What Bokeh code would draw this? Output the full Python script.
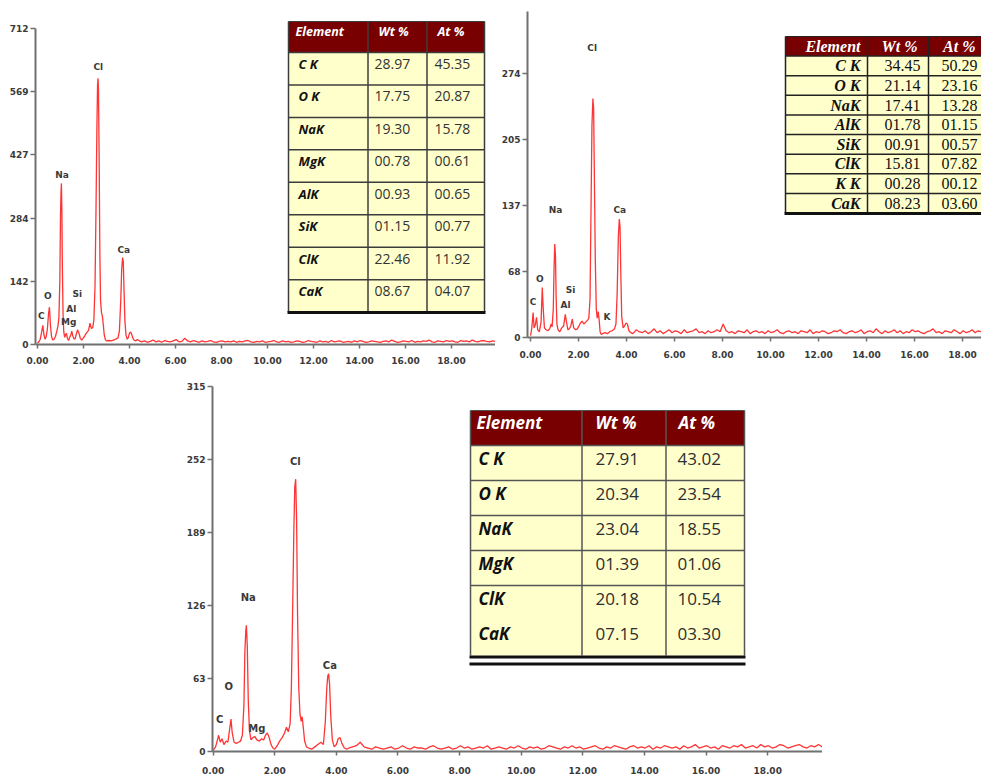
import numpy as np
from bokeh.plotting import figure
from bokeh.models import Range1d, FixedTicker, PrintfTickFormatter, Spacer
from bokeh.layouts import row, column
from bokeh.core.properties import value
from bokeh.embed import file_html
from bokeh.resources import INLINE

# ---------------------------------------------------------------- data
x_ticks = [0, 2, 4, 6, 8, 10, 12, 14, 16, 18]

# spectrum 1 (top left)
s1_energy = [0.00, 0.06, 0.12, 0.18, 0.23, 0.28, 0.33, 0.38, 0.43, 0.48,
             0.52, 0.56, 0.61, 0.66, 0.72, 0.78, 0.84, 0.89, 0.93, 0.97,
             1.00, 1.02, 1.04, 1.06, 1.08, 1.11, 1.14, 1.18, 1.22, 1.26,
             1.30, 1.35, 1.40, 1.45, 1.49, 1.53, 1.58, 1.63, 1.68, 1.74,
             1.80, 1.86, 1.92, 1.98, 2.04, 2.10, 2.16, 2.22, 2.28, 2.34,
             2.40, 2.45, 2.50, 2.54, 2.58, 2.61, 2.63, 2.65, 2.68, 2.71,
             2.74, 2.78, 2.82, 2.86, 2.90, 2.95, 3.00, 3.10, 3.20, 3.30,
             3.40, 3.50, 3.56, 3.62, 3.66, 3.70, 3.73, 3.76, 3.80, 3.85,
             3.90, 3.95, 4.00, 4.05, 4.10, 4.15, 4.20, 4.27, 4.34]
s1_counts = [3, 6, 12, 28, 43, 22, 12, 18, 35, 70,
             84, 45, 18, 10, 12, 18, 30, 42, 60, 140,
             290, 340, 363, 300, 180, 70, 30, 16, 22, 25,
             14, 9, 16, 22, 30, 20, 13, 12, 22, 33,
             26, 14, 10, 14, 18, 24, 28, 32, 48, 36,
             38, 55, 130, 290, 480, 585, 600, 575, 420, 210,
             100, 72, 64, 45, 22, 11, 8, 9, 8, 10,
             12, 15, 30, 100, 170, 196, 186, 125, 52, 20,
             12, 16, 26, 28, 22, 14, 10, 8, 11]
s1_tail = [9, 6, 8, 5, 7, 10, 6, 8, 5, 9, 7, 6, 8, 11, 6, 7, 14, 8, 6, 9,
           7, 5, 8, 6, 7, 9, 6, 5, 7, 8, 6, 7, 6, 8, 5, 7, 6, 8, 9, 6,
           5, 7, 6, 8, 5, 6, 7, 9, 6, 5, 8, 6, 7, 5, 6, 8, 7, 5, 6, 9,
           7, 6, 5, 8, 6, 7, 5, 9, 6, 7, 8, 5, 6, 7, 5, 8, 6, 9, 7, 5,
           6, 8, 7, 6, 5, 7, 8, 6, 10, 7, 5, 6, 8, 7, 6, 9, 5, 7, 6, 8,
           7, 10, 6, 5, 8, 7, 6, 9, 7, 8, 6, 5, 9, 7, 8, 6, 10, 7, 6, 8,
           9, 7, 6, 8, 7]
s1_yticks = [0, 142.4, 284.8, 427.2, 569.6, 712]
s1_ylabels = ["0", "142", "284", "427", "569", "712"]
s1_peaks = ["C", "O", "Na", "Mg", "Al", "Si", "Cl", "Ca"]
s1_peak_x = [0.16, 0.45, 1.07, 1.36, 1.47, 1.73, 2.64, 3.75]
s1_peak_y = [65, 109, 383, 50, 80, 113, 625, 213]

# spectrum 2 (top right)
s2_energy = [0.00, 0.05, 0.11, 0.15, 0.20, 0.25, 0.30, 0.37, 0.44, 0.49,
             0.53, 0.58, 0.65, 0.72, 0.80, 0.86, 0.90, 0.95, 0.98, 1.01,
             1.04, 1.07, 1.10, 1.15, 1.22, 1.30, 1.38, 1.45, 1.50, 1.56,
             1.62, 1.68, 1.74, 1.80, 1.88, 1.95, 2.02, 2.08, 2.15, 2.22,
             2.30, 2.38, 2.43, 2.48, 2.52, 2.56, 2.60, 2.63, 2.66, 2.70,
             2.74, 2.78, 2.82, 2.86, 2.90, 2.95, 3.00, 3.10, 3.20, 3.30,
             3.40, 3.50, 3.56, 3.61, 3.66, 3.70, 3.73, 3.76, 3.80, 3.86,
             3.92, 3.98, 4.04, 4.10, 4.18, 4.26, 4.34]
s2_counts = [2, 9, 26, 10, 13, 21, 8, 6, 16, 52,
             30, 10, 8, 7, 9, 14, 11, 30, 70, 97,
             85, 40, 14, 8, 6, 10, 12, 24, 16, 8,
             9, 12, 19, 10, 8, 9, 12, 15, 17, 14,
             16, 18, 20, 40, 130, 220, 248, 238, 170, 80,
             30, 20, 27, 18, 6, 3, 4, 5, 4, 6,
             7, 9, 14, 45, 105, 123, 115, 70, 22, 10,
             12, 15, 14, 7, 5, 4, 6]
s2_tail = [8, 6, 5, 7, 4, 6, 9, 5, 7, 4, 6, 8, 5, 7, 6, 4, 8, 5, 6, 7,
           9, 5, 6, 4, 7, 5, 6, 8, 6, 14, 7, 5, 6, 4, 7, 6, 5, 8, 4, 6,
           7, 5, 6, 4, 7, 5, 6, 8, 5, 4, 6, 7, 5, 6, 4, 7, 6, 5, 8, 4,
           6, 5, 7, 6, 4, 5, 7, 6, 8, 5, 4, 6, 7, 5, 6, 8, 4, 6, 7, 5,
           9, 6, 4, 7, 5, 6, 8, 5, 7, 4, 6, 5, 8, 6, 7, 5, 4, 6, 7, 9,
           5, 6, 4, 7, 6, 5, 8, 6, 4, 7, 5, 6, 8, 5, 7, 6, 4, 6, 8, 5,
           7, 6, 5, 7, 6]
s2_yticks = [0, 68.5, 137, 205.5, 274]
s2_ylabels = ["0", "68", "137", "205", "274"]
s2_peaks = ["C", "O", "Na", "Al", "Si", "Cl", "K", "Ca"]
s2_peak_x = [0.11, 0.39, 1.04, 1.46, 1.67, 2.57, 3.19, 3.72]
s2_peak_y = [37, 61, 132, 34, 49, 301, 21, 132]

# spectrum 3 (bottom)
s3_energy = [0.00, 0.08, 0.14, 0.18, 0.23, 0.29, 0.35, 0.42, 0.48, 0.54,
             0.58, 0.62, 0.68, 0.75, 0.82, 0.89, 0.95, 1.00, 1.03, 1.06,
             1.08, 1.11, 1.14, 1.18, 1.23, 1.29, 1.35, 1.42, 1.50, 1.57,
             1.64, 1.70, 1.76, 1.82, 1.88, 1.94, 2.00, 2.08, 2.16, 2.24,
             2.32, 2.38, 2.44, 2.50, 2.54, 2.58, 2.62, 2.65, 2.68, 2.71,
             2.74, 2.78, 2.82, 2.86, 2.89, 2.93, 2.97, 3.03, 3.10, 3.20,
             3.30, 3.40, 3.50, 3.58, 3.64, 3.69, 3.72, 3.75, 3.78, 3.82,
             3.87, 3.93, 4.00, 4.06, 4.12, 4.18, 4.26, 4.34]
s3_counts = [1, 4, 10, 14, 8, 11, 6, 9, 8, 20,
             28, 16, 8, 7, 8, 9, 14, 40, 85, 104,
             109, 90, 45, 18, 10, 12, 13, 10, 9, 11,
             10, 14, 16, 12, 6, 3, 2, 5, 9, 12,
             16, 21, 17, 24, 55, 120, 190, 228, 235, 200,
             120, 55, 32, 26, 30, 20, 9, 4, 3, 2,
             4, 6, 8, 6, 25, 55, 65, 67, 58, 30,
             10, 4, 6, 11, 12, 7, 3, 2]
s3_tail = [3, 4, 5, 8, 4, 3, 2, 4, 3, 2, 3, 4, 2, 3, 5, 3, 2, 4, 3, 3,
           2, 4, 5, 3, 2, 3, 4, 2, 3, 5, 3, 4, 2, 3, 4, 3, 5, 2, 3, 4,
           3, 2, 4, 3, 5, 3, 2, 4, 3, 4, 2, 3, 5, 4, 3, 2, 4, 3, 5, 3,
           4, 2, 3, 4, 5, 3, 2, 4, 3, 5, 4, 3, 2, 4, 5, 3, 4, 3, 5, 2,
           4, 3, 5, 4, 3, 4, 2, 5, 3, 4, 6, 3, 4, 5, 3, 4, 2, 5, 4, 3,
           5, 4, 6, 3, 4, 5, 3, 6, 4, 5, 3, 4, 6, 5, 3, 4, 5, 6, 4, 3,
           5, 4, 6, 4, 5]
s3_yticks = [0, 63, 126, 189, 252, 315]
s3_ylabels = ["0", "63", "126", "189", "252", "315"]
s3_peaks = ["C", "O", "Na", "Mg", "Cl", "Ca"]
s3_peak_x = [0.21, 0.51, 1.14, 1.42, 2.67, 3.79]
s3_peak_y = [28, 56, 133, 20, 250, 74]

# tables
table_header = ["Element", "Wt %", "At %"]
t1_elements = ["C K", "O K", "NaK", "MgK", "AlK", "SiK", "ClK", "CaK"]
t1_wt = [28.97, 17.75, 19.30, 0.78, 0.93, 1.15, 22.46, 8.67]
t1_at = [45.35, 20.87, 15.78, 0.61, 0.65, 0.77, 11.92, 4.07]
t2_elements = ["C K", "O K", "NaK", "AlK", "SiK", "ClK", "K K", "CaK"]
t2_wt = [34.45, 21.14, 17.41, 1.78, 0.91, 15.81, 0.28, 8.23]
t2_at = [50.29, 23.16, 13.28, 1.15, 0.57, 7.82, 0.12, 3.60]
t3_elements = ["C K", "O K", "NaK", "MgK", "ClK", "CaK"]
t3_wt = [27.91, 20.34, 23.04, 1.39, 20.18, 7.15]
t3_at = [43.02, 23.54, 18.55, 1.06, 10.54, 3.30]

TAIL_START, TAIL_STEP = 4.4, 0.125  # channel grid of the flat part

# ---------------------------------------------------------------- style
RED = "#ff3434"
AXC = "#707070"
LBL = "#3a3a3a"
MAROON = "#780000"
CREAM = "#ffffcc"


def spectrum(energy, counts, tail):
    e = list(energy) + [round(TAIL_START + TAIL_STEP * i, 3) for i in range(len(tail))]
    c = list(counts) + list(tail)
    return e, c


def make_panel(w, h, ml, mr, mt, mb, xr, yr, frame):
    p = figure(width=w, height=h, x_range=Range1d(*xr), y_range=Range1d(*yr),
               output_backend="svg", toolbar_location=None, title=None,
               min_border_left=ml, min_border_right=mr,
               min_border_top=mt, min_border_bottom=mb)
    L, R, T, B = frame
    p.extra_x_ranges = {"tx": Range1d(L, R)}
    p.extra_y_ranges = {"ty": Range1d(B, T)}
    p.outline_line_color = None
    p.xgrid.visible = False
    p.ygrid.visible = False
    p.background_fill_color = "white"
    p.border_fill_color = "white"
    return p


def style_axes(p, yticks, ylabels, x_standoff, ybounds=None):
    xa, ya = p.xaxis[0], p.yaxis[0]
    xa.ticker = FixedTicker(ticks=x_ticks)
    xa.formatter = PrintfTickFormatter(format="%.2f")
    ya.ticker = FixedTicker(ticks=yticks)
    ya.major_label_overrides = {t: l for t, l in zip(yticks, ylabels)}
    if ybounds is not None:
        ya.bounds = ybounds
    for ax in (xa, ya):
        ax.axis_line_color = AXC
        ax.axis_line_width = 2
        ax.major_tick_line_color = AXC
        ax.major_tick_line_width = 1.5
        ax.major_tick_in = 0
        ax.minor_tick_line_color = None
        ax.major_label_text_font = "DejaVu Sans"
        ax.major_label_text_font_style = "bold"
        ax.major_label_text_font_size = "9px"
        ax.major_label_text_color = LBL
    ya.major_tick_out = 5
    ya.major_label_standoff = 2
    xa.major_tick_out = 4
    xa.major_label_standoff = x_standoff


def draw_spectrum(p, e, c, names, px, py, size="9px"):
    p.line(e, c, line_color=RED, line_width=1.3)
    p.text(x=px, y=py, text=names, text_font=value("DejaVu Sans"),
           text_font_style="bold", text_font_size=size, text_color=LBL,
           text_align="center", text_baseline="middle")


def draw_table(p, cfg, headers, elements, wt, at):
    kw = dict(x_range_name="tx", y_range_name="ty")
    L, R, T = cfg["left"], cfg["right"], cfg["top"]
    HB, RH = cfg["head_bottom"], cfg["row_h"]
    n = len(elements)
    B = HB + RH * n
    p.quad(left=[L], right=[R], top=[T], bottom=[HB], fill_color=MAROON,
           line_color=None, **kw)
    p.quad(left=[L], right=[R], top=[HB], bottom=[B], fill_color=CREAM,
           line_color=None, **kw)
    ys = [HB] + [HB + RH * k for k in range(1, n) if k not in cfg.get("skip", [])]
    p.segment(x0=[L] * len(ys), x1=[R] * len(ys), y0=ys, y1=ys,
              line_color=cfg["grid"], line_width=cfg["grid_w"], **kw)
    xs = [L] + cfg["cols"] + [R]
    p.segment(x0=xs, x1=xs, y0=[T] * len(xs), y1=[B] * len(xs),
              line_color=cfg["grid"], line_width=cfg["grid_w"], **kw)
    p.segment(x0=[L], x1=[R], y0=[T], y1=[T], line_color=cfg["grid"],
              line_width=1, **kw)
    for off in cfg["bottom_lines"]:
        p.segment(x0=[L - 1], x1=[R + 1], y0=[B + off], y1=[B + off],
                  line_color="#111111", line_width=3, **kw)
    font = value(cfg["font"])
    hy = [T + cfg["head_dy"]] * 3
    p.text(x=cfg["hx"], y=hy, text=headers, text_font=font,
           text_font_style="bold italic", text_font_size=cfg["head_size"],
           text_color="white", text_align=cfg["align"], text_baseline="middle", **kw)
    ry = [HB + RH * k + cfg["row_dy"] for k in range(n)]
    p.text(x=[cfg["vx"][0]] * n, y=ry, text=elements, text_font=font,
           text_font_style="bold italic", text_font_size=cfg["elem_size"],
           text_color="#111111", text_align=cfg["align"], text_baseline="middle", **kw)
    for col, vals in zip(cfg["vx"][1:], (wt, at)):
        p.text(x=[col] * n, y=ry, text=[f"{v:05.2f}" for v in vals], text_font=font,
               text_font_style="normal", text_font_size=cfg["val_size"],
               text_color=cfg["val_color"], text_align=cfg["align"],
               text_baseline="middle", **kw)


# ---------------------------------------------------------------- panel 1
p1 = make_panel(495, 370, 35, 0, 11, 26, (-0.087, 19.91), (0, 750.3),
                (35, 495, 11, 344))
style_axes(p1, s1_yticks, s1_ylabels, 8, ybounds=(0, 712))
e1, c1 = spectrum(s1_energy, s1_counts, s1_tail)
draw_spectrum(p1, e1, c1, s1_peaks, s1_peak_x, s1_peak_y)
draw_table(p1, dict(left=288, right=484, top=21, head_bottom=52, row_h=32.45,
                    cols=[367.5, 426.5], grid="#3c3c3c", grid_w=1.5,
                    bottom_lines=[0.5], font="Open Sans", align="left",
                    hx=[295, 378, 437], vx=[298, 374, 434], head_dy=10,
                    row_dy=11.3, head_size="12.5px", elem_size="13px",
                    val_size="14px", val_color="#333333"),
           table_header, t1_elements, t1_wt, t1_at)

# ---------------------------------------------------------------- panel 2
p2 = make_panel(486, 370, 32, 0, 11, 33, (-0.125, 18.79), (0, 338.4),
                (527, 981, 11, 337))
style_axes(p2, s2_yticks, s2_ylabels, 9)
e2, c2 = spectrum(s2_energy, s2_counts, s2_tail)
draw_spectrum(p2, e2, c2, s2_peaks, s2_peak_x, s2_peak_y)
draw_table(p2, dict(left=785, right=995, top=36, head_bottom=55.5, row_h=19.63,
                    cols=[867, 928], grid="#222222", grid_w=1.5,
                    bottom_lines=[0.5], font="Liberation Serif", align="right",
                    hx=[860, 917, 975], vx=[860, 920, 977], head_dy=9.8,
                    row_dy=9.8, head_size="16px", elem_size="16px",
                    val_size="16px", val_color="#111111"),
           table_header, t2_elements, t2_wt, t2_at)

# ---------------------------------------------------------------- panel 3
p3 = make_panel(650, 407, 40, 0, 16, 26, (-0.02, 19.78), (0, 315),
                (212, 822, 386, 751))
style_axes(p3, s3_yticks, s3_ylabels, 11)
e3, c3 = spectrum(s3_energy, s3_counts, s3_tail)
draw_spectrum(p3, e3, c3, s3_peaks, s3_peak_x, s3_peak_y, size="10px")
draw_table(p3, dict(left=470, right=744, top=410, head_bottom=445, row_h=35,
                    cols=[581.5, 665.5], grid="#555555", grid_w=1.5, skip=[5],
                    bottom_lines=[1.5, 8.5], font="Open Sans", align="left",
                    hx=[476, 595, 678], vx=[478, 595, 677], head_dy=12,
                    row_dy=13, head_size="17px", elem_size="17px",
                    val_size="17px", val_color="#2e2e2e"),
           table_header, t3_elements, t3_wt, t3_at)

# each top figure sits in its own column so the row does not align their frames
layout = column(row(column(p1), column(p2)),
                row(Spacer(width=172, height=407), p3))

with open("out.html", "w") as f:
    f.write(file_html(layout, INLINE))
